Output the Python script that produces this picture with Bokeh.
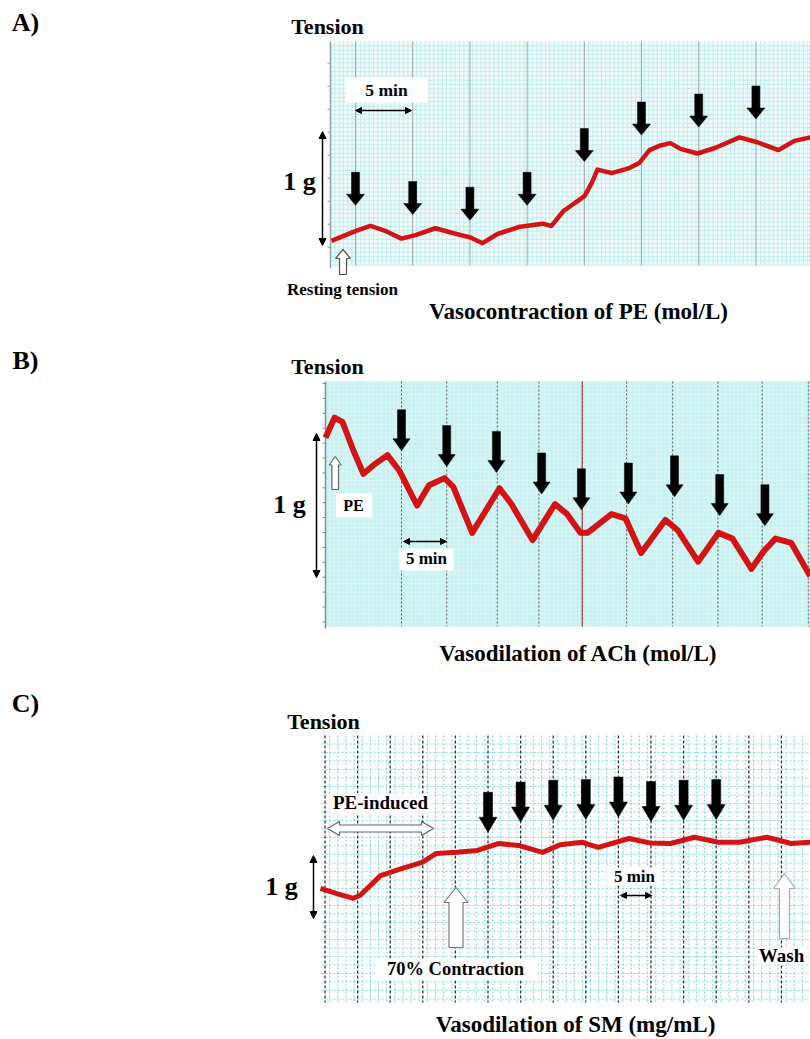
import numpy as np
from bokeh.plotting import figure
from bokeh.layouts import column
from bokeh.models import Range1d, Label, Arrow, NormalHead
from bokeh.embed import file_html
from bokeh.resources import INLINE

FONT = "Liberation Serif"
W = 810
PAGE_L, PAGE_R = 0, 810
RED = "#d41414"

# ---------------- data (time in min, tension in g) ----------------
# A) Vasocontraction of PE
a_time = [-2.10, 0.09, 1.31, 2.53, 4.02, 5.24, 6.99, 8.83, 10.05, 11.10, 12.41, 14.25, 16.35, 17.13,
          18.18, 20.02, 20.63, 21.15, 22.38, 23.86, 24.83, 25.70, 26.66, 27.53, 28.41, 29.90, 31.47,
          33.57, 35.05, 36.98, 38.37, 39.77]
a_tension = [0.04, 0.13, 0.17, 0.13, 0.06, 0.09, 0.15, 0.10, 0.07, 0.02, 0.10, 0.16, 0.19, 0.17,
             0.30, 0.43, 0.54, 0.66, 0.63, 0.67, 0.72, 0.83, 0.87, 0.89, 0.84, 0.80, 0.85,
             0.94, 0.90, 0.83, 0.91, 0.94]
a_dose_time = [0, 5, 10, 15, 20, 25, 30, 35]
a_arrow_tip = [0.35, 0.27, 0.22, 0.35, 0.73, 0.96, 1.03, 1.10]
a_marks = [0, 5, 10, 15, 20, 25, 30, 35]

# B) Vasodilation of ACh
b_time = [-8.41, -7.41, -6.53, -5.31, -4.21, -3.10, -1.55, -0.22, 1.72, 3.05, 4.75, 5.73, 7.82,
          10.84, 12.16, 14.49, 16.98, 18.32, 19.80, 20.57, 23.23, 24.78, 26.51, 29.18, 30.53,
          32.81, 35.06, 36.61, 38.71, 40.04, 41.37, 43.11, 45.21]
b_tension = [0.97, 1.11, 1.08, 0.88, 0.72, 0.78, 0.85, 0.74, 0.50, 0.64, 0.69, 0.63, 0.31,
             0.62, 0.51, 0.26, 0.51, 0.44, 0.31, 0.31, 0.44, 0.41, 0.17, 0.40, 0.33,
             0.11, 0.31, 0.27, 0.06, 0.18, 0.27, 0.24, 0.01]
b_dose_time = [0, 5.0, 10.5, 15.5, 19.9, 25.1, 30.2, 35.2, 40.2]
b_arrow_tip = [0.88, 0.77, 0.73, 0.58, 0.47, 0.51, 0.56, 0.43, 0.36]
b_marks = [0, 5.0, 10.6, 15.2, 20.0, 24.9, 30.0, 35.0, 39.9, 45.0]
b_red_mark = [20.0]

# C) Vasodilation of SM
c_time = [-0.69, 1.69, 4.34, 5.40, 8.51, 11.73, 14.91, 17.02, 20.17, 23.39, 26.55, 29.68, 33.36,
          36.07, 39.49, 41.89, 46.64, 49.77, 52.99, 56.67, 60.35, 63.57, 67.79, 71.50, 74.46]
c_tension = [0.48, 0.40, 0.32, 0.37, 0.68, 0.79, 0.89, 1.03, 1.05, 1.08, 1.19, 1.16, 1.05,
             1.17, 1.21, 1.13, 1.27, 1.20, 1.19, 1.29, 1.21, 1.21, 1.29, 1.19, 1.21]
c_dose_time = [25, 30, 35, 40, 45, 50, 55, 60]
c_arrow_tip = [1.37, 1.53, 1.56, 1.57, 1.61, 1.54, 1.56, 1.57]
c_marks = [0, 5, 10, 15, 20, 25, 30, 35, 40, 45, 50, 55, 60, 65, 70]


# ---------------- helpers ----------------
def panel(top, bottom, x0, ppm, y0, ppg):
    p = figure(width=W, height=bottom - top, title=None,
               x_range=Range1d((PAGE_L - x0) / ppm, (PAGE_R - x0) / ppm),
               y_range=Range1d((y0 - bottom) / ppg, (y0 - top) / ppg),
               x_axis_location=None, y_axis_location=None,
               output_backend="svg", toolbar_location=None, min_border=0)
    p.outline_line_color = None
    p.background_fill_color = "white"
    p.border_fill_color = "white"
    for g in p.grid:
        g.visible = False
    X = lambda px: (np.asarray(px, dtype=float) - x0) / ppm
    Y = lambda py: (y0 - np.asarray(py, dtype=float)) / ppg
    return p, X, Y


def label(p, X, Y, px, py, s, size, color="black"):
    p.add_layout(Label(x=float(X(px)), y=float(Y(py)), text=s, text_font=FONT,
                       text_font_style="bold", text_font_size=f"{size}px",
                       text_align="center", text_baseline="middle", text_color=color))


def dbl(p, X, Y, x1, y1, x2, y2, size=7, width=1.5):
    p.add_layout(Arrow(x_start=float(X(x1)), y_start=float(Y(y1)),
                       x_end=float(X(x2)), y_end=float(Y(y2)),
                       line_width=width, line_color="black",
                       start=NormalHead(size=size, fill_color="black", line_color="black", line_width=1),
                       end=NormalHead(size=size, fill_color="black", line_color="black", line_width=1)))


def box(p, X, Y, x1, x2, y1, y2):
    p.quad(left=float(X(x1)), right=float(X(x2)), top=float(Y(y1)), bottom=float(Y(y2)),
           fill_color="white", line_color=None)


def grid(p, X, Y, x1, x2, y1, y2, dx, dy, color, width=1.0, dash="solid"):
    vx = np.arange(x1 + dx, x2, dx)
    hy = np.arange(y1 + dy, y2, dy)
    p.segment(x0=X(vx), y0=np.full(len(vx), Y(y1)), x1=X(vx), y1=np.full(len(vx), Y(y2)),
              line_color=color, line_width=width, line_dash=dash)
    p.segment(x0=np.full(len(hy), X(x1)), y0=Y(hy), x1=np.full(len(hy), X(x2)), y1=Y(hy),
              line_color=color, line_width=width, line_dash=dash)


def dose_arrows(p, times, tips, ppm, ppg, L, sw, hw, hl):
    shape = [(-sw, L), (sw, L), (sw, hl), (hw, hl), (0, 0), (-hw, hl), (-sw, hl)]
    xs = [[t + dx / ppm for dx, dy in shape] for t in times]
    ys = [[g + dy / ppg for dx, dy in shape] for g in tips]
    p.patches(xs, ys, fill_color="black", line_color="black", line_width=0.5)


def hollow_up(p, X, Y, px, py, L, sw, hw, hl, color):
    shape = [(-sw, L), (sw, L), (sw, hl), (hw, hl), (0, 0), (-hw, hl), (-sw, hl)]
    p.patch([float(X(px + dx)) for dx, dy in shape], [float(Y(py + dy)) for dx, dy in shape],
            fill_color="white", line_color=color, line_width=1.2)


def hollow_h(p, X, Y, x1, x2, py, sw, hw, hl, color):
    shape = [(x1, 0), (x1 + hl, hw), (x1 + hl, sw), (x2 - hl, sw), (x2 - hl, hw), (x2, 0),
             (x2 - hl, -hw), (x2 - hl, -sw), (x1 + hl, -sw), (x1 + hl, -hw)]
    p.patch([float(X(x)) for x, d in shape], [float(Y(py + d)) for x, d in shape],
            fill_color="white", line_color=color, line_width=1.2)


# ================= Panel A =================
A_X0, A_PPM, A_Y0, A_PPG = 355, 11.44, 245, 115
pa, XA, YA = panel(0, 340, A_X0, A_PPM, A_Y0, A_PPG)
pa.quad(left=float(XA(330)), right=float(XA(815)), top=float(YA(41)), bottom=float(YA(265)),
        fill_color="#f1fbfb", line_color=None)
grid(pa, XA, YA, 330, 815, 41, 265, 4.3, 4.3, "#c3ecec", 1.0)
pa.segment(x0=a_marks, y0=[float(YA(41))] * len(a_marks), x1=a_marks, y1=[float(YA(265))] * len(a_marks),
           line_color="#a8a8a8", line_width=1)
pa.segment(x0=[float(XA(330))], y0=[float(YA(41))], x1=[float(XA(330))], y1=[float(YA(268))],
           line_color="#88a4a4", line_width=1.5)
ta = np.arange(62.7, 265, 23)
pa.segment(x0=np.full(len(ta), XA(327)), y0=YA(ta), x1=np.full(len(ta), XA(330)), y1=YA(ta),
           line_color="#999999", line_width=1)
box(pa, XA, YA, 345, 427, 77, 102)
pa.line(a_time, a_tension, line_color=RED, line_width=4.5, line_join="round")
dose_arrows(pa, a_dose_time, a_arrow_tip, A_PPM, A_PPG, L=33, sw=4, hw=9, hl=11)
hollow_up(pa, XA, YA, 342.5, 249, L=25, sw=3.5, hw=7.5, hl=9, color="#555555")
dbl(pa, XA, YA, 322, 131, 322, 245)
dbl(pa, XA, YA, 355, 110, 411, 110, size=6)
label(pa, XA, YA, 25, 22, "A)", 26)
label(pa, XA, YA, 327, 26, "Tension", 22)
label(pa, XA, YA, 299, 181, "1 g", 26)
label(pa, XA, YA, 386, 89, "5 min", 17.5)
label(pa, XA, YA, 342, 289, "Resting tension", 17)
label(pa, XA, YA, 578, 311, "Vasocontraction of PE (mol/L)", 23)

# ================= Panel B =================
B_X0, B_PPM, B_Y0, B_PPG = 401, 9.04, 577, 144
pb, XB, YB = panel(340, 680, B_X0, B_PPM, B_Y0, B_PPG)
pb.quad(left=float(XB(325)), right=float(XB(815)), top=float(YB(381)), bottom=float(YB(626)),
        fill_color="#c9f1f1", line_color=None)
grid(pb, XB, YB, 325, 815, 381, 626, 4.3, 4.3, "#e6fafa", 1.0, "1 1")
pb.segment(x0=b_marks, y0=[float(YB(381))] * len(b_marks), x1=b_marks, y1=[float(YB(626))] * len(b_marks),
           line_color="#555555", line_width=1, line_dash="2 2")
pb.segment(x0=b_red_mark, y0=[float(YB(381))], x1=b_red_mark, y1=[float(YB(626))],
           line_color="#b03030", line_width=1)
pb.segment(x0=[float(XB(325))], y0=[float(YB(381))], x1=[float(XB(325))], y1=[float(YB(628))],
           line_color="#6f9a9a", line_width=1.5)
tb = np.arange(383, 628, 14.9)
pb.segment(x0=np.full(len(tb), XB(322)), y0=YB(tb), x1=np.full(len(tb), XB(325)), y1=YB(tb),
           line_color="#888888", line_width=1)
box(pb, XB, YB, 335.5, 371.7, 493, 517)
box(pb, XB, YB, 399, 453, 548, 570)
pb.line(b_time, b_tension, line_color=RED, line_width=6, line_join="round")
dose_arrows(pb, b_dose_time, b_arrow_tip, B_PPM, B_PPG, L=41, sw=4, hw=8.5, hl=12)
hollow_up(pb, XB, YB, 334.7, 456, L=33, sw=3.3, hw=6, hl=8.5, color="#666666")
dbl(pb, XB, YB, 316, 433, 316, 577)
dbl(pb, XB, YB, 403, 541, 446, 541, size=6)
label(pb, XB, YB, 25, 360, "B)", 26)
label(pb, XB, YB, 327, 366, "Tension", 22)
label(pb, XB, YB, 289, 504, "1 g", 26)
label(pb, XB, YB, 353, 505, "PE", 16)
label(pb, XB, YB, 426, 558, "5 min", 17)
label(pb, XB, YB, 578, 653, "Vasodilation of ACh (mol/L)", 23)

# ================= Panel C =================
C_X0, C_PPM, C_Y0, C_PPG = 324.5, 6.52, 918, 63
pc, XC, YC = panel(680, 1038, C_X0, C_PPM, C_Y0, C_PPG)
grid(pc, XC, YC, 321, 815, 735, 1002, 8.15, 8.5, "#85dcdc", 1.2, "2 2")
pc.segment(x0=c_marks, y0=[float(YC(735))] * len(c_marks), x1=c_marks, y1=[float(YC(1002))] * len(c_marks),
           line_color="#333333", line_width=1.3, line_dash="3 2")
box(pc, XC, YC, 329, 430, 793, 813)
box(pc, XC, YC, 375, 537, 958, 980)
box(pc, XC, YC, 606, 661, 867, 885)
box(pc, XC, YC, 756, 806, 947, 964)
pc.line(c_time, c_tension, line_color=RED, line_width=5, line_join="round")
dose_arrows(pc, c_dose_time, c_arrow_tip, C_PPM, C_PPG, L=40, sw=4.5, hw=9, hl=15)
hollow_h(pc, XC, YC, 327, 433, 828, sw=3.5, hw=7, hl=12, color="#666666")
hollow_up(pc, XC, YC, 455.5, 887, L=60, sw=7, hw=12, hl=15, color="#777777")
hollow_up(pc, XC, YC, 784, 873, L=65, sw=5, hw=11, hl=15, color="#aaaaaa")
dbl(pc, XC, YC, 313, 855, 313, 918)
dbl(pc, XC, YC, 620, 895, 651, 895, size=6)
label(pc, XC, YC, 25, 703, "C)", 26)
label(pc, XC, YC, 323, 721, "Tension", 22)
label(pc, XC, YC, 281, 886, "1 g", 26)
label(pc, XC, YC, 380, 802, "PE-induced", 19)
label(pc, XC, YC, 455, 968, "70% Contraction", 18.5)
label(pc, XC, YC, 634, 876, "5 min", 17)
label(pc, XC, YC, 781, 955, "Wash", 19)
label(pc, XC, YC, 575, 1024, "Vasodilation of SM (mg/mL)", 23)

layout = column(pa, pb, pc, spacing=0)
open("out.html", "w").write(file_html(layout, INLINE))
